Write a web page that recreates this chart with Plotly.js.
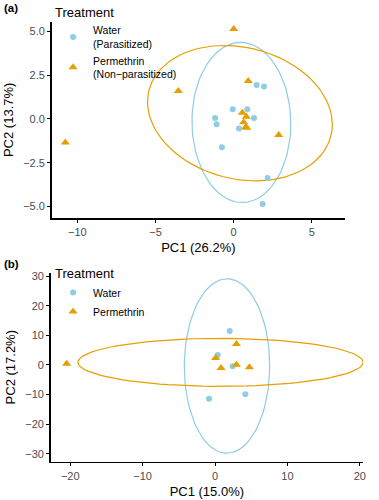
<!DOCTYPE html>
<html>
<head>
<meta charset="utf-8">
<script src="https://cdn.plot.ly/plotly-3.0.1.min.js"></script>
<style>html,body{margin:0;padding:0;background:#fff}#chart{width:379px;height:500px}</style>
</head>
<body>
<div id="chart"></div>
<script>
// ---- Panel (a) data ----
const waterA_x = [1.47, 1.94, -0.06, 0.87, -1.19, -1.09, 1.30, 0.34, -0.75, 2.17, 1.85];
const waterA_y = [1.94, 1.85, 0.55, 0.55, 0.06, -0.30, 0.06, -0.55, -1.62, -3.37, -4.86];
const permA_x = [0.00, -3.54, 0.93, 0.55, 0.81, 0.64, 0.77, 0.84, 2.88, -10.77];
const permA_y = [5.14, 1.60, 2.17, 0.36, 0.13, -0.19, -0.47, -0.50, -0.91, -1.35];
// ---- Panel (b) data ----
const waterB_x = [2.03, 0.37, 2.44, -0.83, 4.19];
const waterB_y = [11.5, 3.38, -0.45, -11.4, -9.9];
const permB_x = [-20.5, 2.95, 0.09, 0.83, 2.95, 4.75];
const permB_y = [0.45, 7.1, 2.37, -1.0, 0.1, -0.8];

const labelsA = ['Water<br>(Parasitized)', 'Permethrin<br>(Non\u2212parasitized)'];
const labelsB = ['Water', 'Permethrin'];
const xTitleA = 'PC1 (26.2%)', yTitleA = 'PC2 (13.7%)';
const xTitleB = 'PC1 (15.0%)', yTitleB = 'PC2 (17.2%)';

const BLUE = '#8ECDE5', ORANGE = '#E69F00';

// multivariate t robust covariance (as MASS::cov.trob) -> 95% ellipse like ggplot2 stat_ellipse
function covTrob(xs, ys) {
  const n = xs.length, nu = 5, p = 2;
  let loc = [xs.reduce((a,b)=>a+b,0)/n, ys.reduce((a,b)=>a+b,0)/n];
  let w = new Array(n).fill(1);
  let X;
  for (let it = 0; it < 25; it++) {
    const w0 = w.slice();
    X = xs.map((x,i)=>[x-loc[0], ys[i]-loc[1]]);
    const sw = w.reduce((a,b)=>a+b,0);
    let a=0,b=0,c=0;
    X.forEach((d,i)=>{a+=w[i]*d[0]*d[0]/sw; b+=w[i]*d[0]*d[1]/sw; c+=w[i]*d[1]*d[1]/sw;});
    const det = a*c-b*b;
    const Q = X.map(d => (c*d[0]*d[0] - 2*b*d[0]*d[1] + a*d[1]*d[1])/det);
    w = Q.map(q => (nu+p)/(nu+q));
    const sw2 = w.reduce((s,v)=>s+v,0);
    loc = [xs.reduce((s,x,i)=>s+w[i]*x,0)/sw2, ys.reduce((s,y,i)=>s+w[i]*y,0)/sw2];
    if (w.every((v,i)=>Math.abs(v-w0[i])<0.01)) break;
  }
  let a=0,b=0,c=0;
  X.forEach((d,i)=>{a+=w[i]*d[0]*d[0]/n; b+=w[i]*d[0]*d[1]/n; c+=w[i]*d[1]*d[1]/n;});
  return {center: loc, cov: [a,b,c]};
}
function ellipse(xs, ys) {
  const n = xs.length, d2 = n-1;
  const qf = (d2/2)*(Math.pow(0.05, -2/d2) - 1);
  const r = Math.sqrt(2*qf);
  const {center, cov} = covTrob(xs, ys);
  const u11 = Math.sqrt(cov[0]), u12 = cov[1]/u11, u22 = Math.sqrt(cov[2]-u12*u12);
  const ex=[], ey=[];
  for (let k=0;k<=100;k++){
    const t = k*2*Math.PI/100, co=Math.cos(t), si=Math.sin(t);
    ex.push(center[0] + r*co*u11);
    ey.push(center[1] + r*(co*u12 + si*u22));
  }
  return {x: ex, y: ey};
}

const eWA = ellipse(waterA_x, waterA_y), ePA = ellipse(permA_x, permA_y);
const eWB = ellipse(waterB_x, waterB_y), ePB = ellipse(permB_x, permB_y);

const line = (e, col, xa, ya) => ({x:e.x, y:e.y, xaxis:xa, yaxis:ya, mode:'lines', line:{color:col, width:1.2}, showlegend:false, hoverinfo:'skip'});
const pts = (x, y, col, sym, sz, name, xa, ya, lg) => ({x, y, xaxis:xa, yaxis:ya, mode:'markers', name, legend:lg,
  marker:{color:col, symbol:sym, size:sz, line:{width:0}}});

const data = [
  line(eWA, BLUE, 'x', 'y'), line(ePA, ORANGE, 'x', 'y'),
  pts(waterA_x, waterA_y, BLUE, 'circle', 6, labelsA[0], 'x', 'y', 'legend'),
  pts(permA_x, permA_y, ORANGE, 'triangle-up', 8, labelsA[1], 'x', 'y', 'legend'),
  line(eWB, BLUE, 'x2', 'y2'), line(ePB, ORANGE, 'x2', 'y2'),
  pts(waterB_x, waterB_y, BLUE, 'circle', 6, labelsB[0], 'x2', 'y2', 'legend2'),
  pts(permB_x, permB_y, ORANGE, 'triangle-up', 8, labelsB[1], 'x2', 'y2', 'legend2'),
];

const FONT = 'Liberation Sans, Arial, sans-serif';
const axBase = {showline:true, linecolor:'#000', linewidth:1.6, ticks:'outside', ticklen:3, tickwidth:1, tickcolor:'#000',
  showgrid:false, zeroline:false, tickfont:{size:11, color:'#4D4D4D', family:FONT}, automargin:false};

const layout = {
  width:379, height:500, margin:{l:0,r:0,t:0,b:0}, paper_bgcolor:'#fff', plot_bgcolor:'#fff',
  font:{family:FONT, color:'#000'},
  xaxis: Object.assign({}, axBase, {domain:[0.1364,0.9103], range:[-11.64,7.12], tickvals:[-10,-5,0,5], anchor:'y',
    title:{text:xTitleA, font:{size:13}, standoff:6}}),
  yaxis: Object.assign({}, axBase, {domain:[0.564,0.9566], range:[-5.66,5.56], tickvals:[-5,-2.5,0,2.5,5], tickformat:'.1f', anchor:'x',
    title:{text:yTitleA, font:{size:13}, standoff:6}}),
  xaxis2: Object.assign({}, axBase, {domain:[0.1338,0.9578], range:[-22.7,20.44], tickvals:[-20,-10,0,10,20], anchor:'y2',
    title:{text:xTitleB, font:{size:13}, standoff:6}}),
  yaxis2: Object.assign({}, axBase, {domain:[0.0766,0.4546], range:[-32.7,31.2], tickvals:[-30,-20,-10,0,10,20,30], anchor:'x2',
    title:{text:yTitleB, font:{size:13}, standoff:6}}),
  legend: {x:0.14, y:1.0, xanchor:'left', yanchor:'top', bgcolor:'rgba(0,0,0,0)', font:{size:10.5, color:'#000'},
    title:{text:'Treatment', font:{size:13}}, tracegroupgap:0, itemclick:false},
  legend2: {x:0.14, y:0.478, xanchor:'left', yanchor:'top', bgcolor:'rgba(0,0,0,0)', font:{size:10.5, color:'#000'},
    title:{text:'Treatment', font:{size:13}}, tracegroupgap:0, itemclick:false},
  annotations: [
    {text:'<b>(a)</b>', x:0.005, y:0.984, xref:'paper', yref:'paper', xanchor:'left', yanchor:'middle', showarrow:false, font:{size:11.5}},
    {text:'<b>(b)</b>', x:0.005, y:0.472, xref:'paper', yref:'paper', xanchor:'left', yanchor:'middle', showarrow:false, font:{size:11.5}},
  ],
};

Plotly.newPlot('chart', data, layout, {staticPlot:true, displayModeBar:false});
</script>
</body>
</html>
